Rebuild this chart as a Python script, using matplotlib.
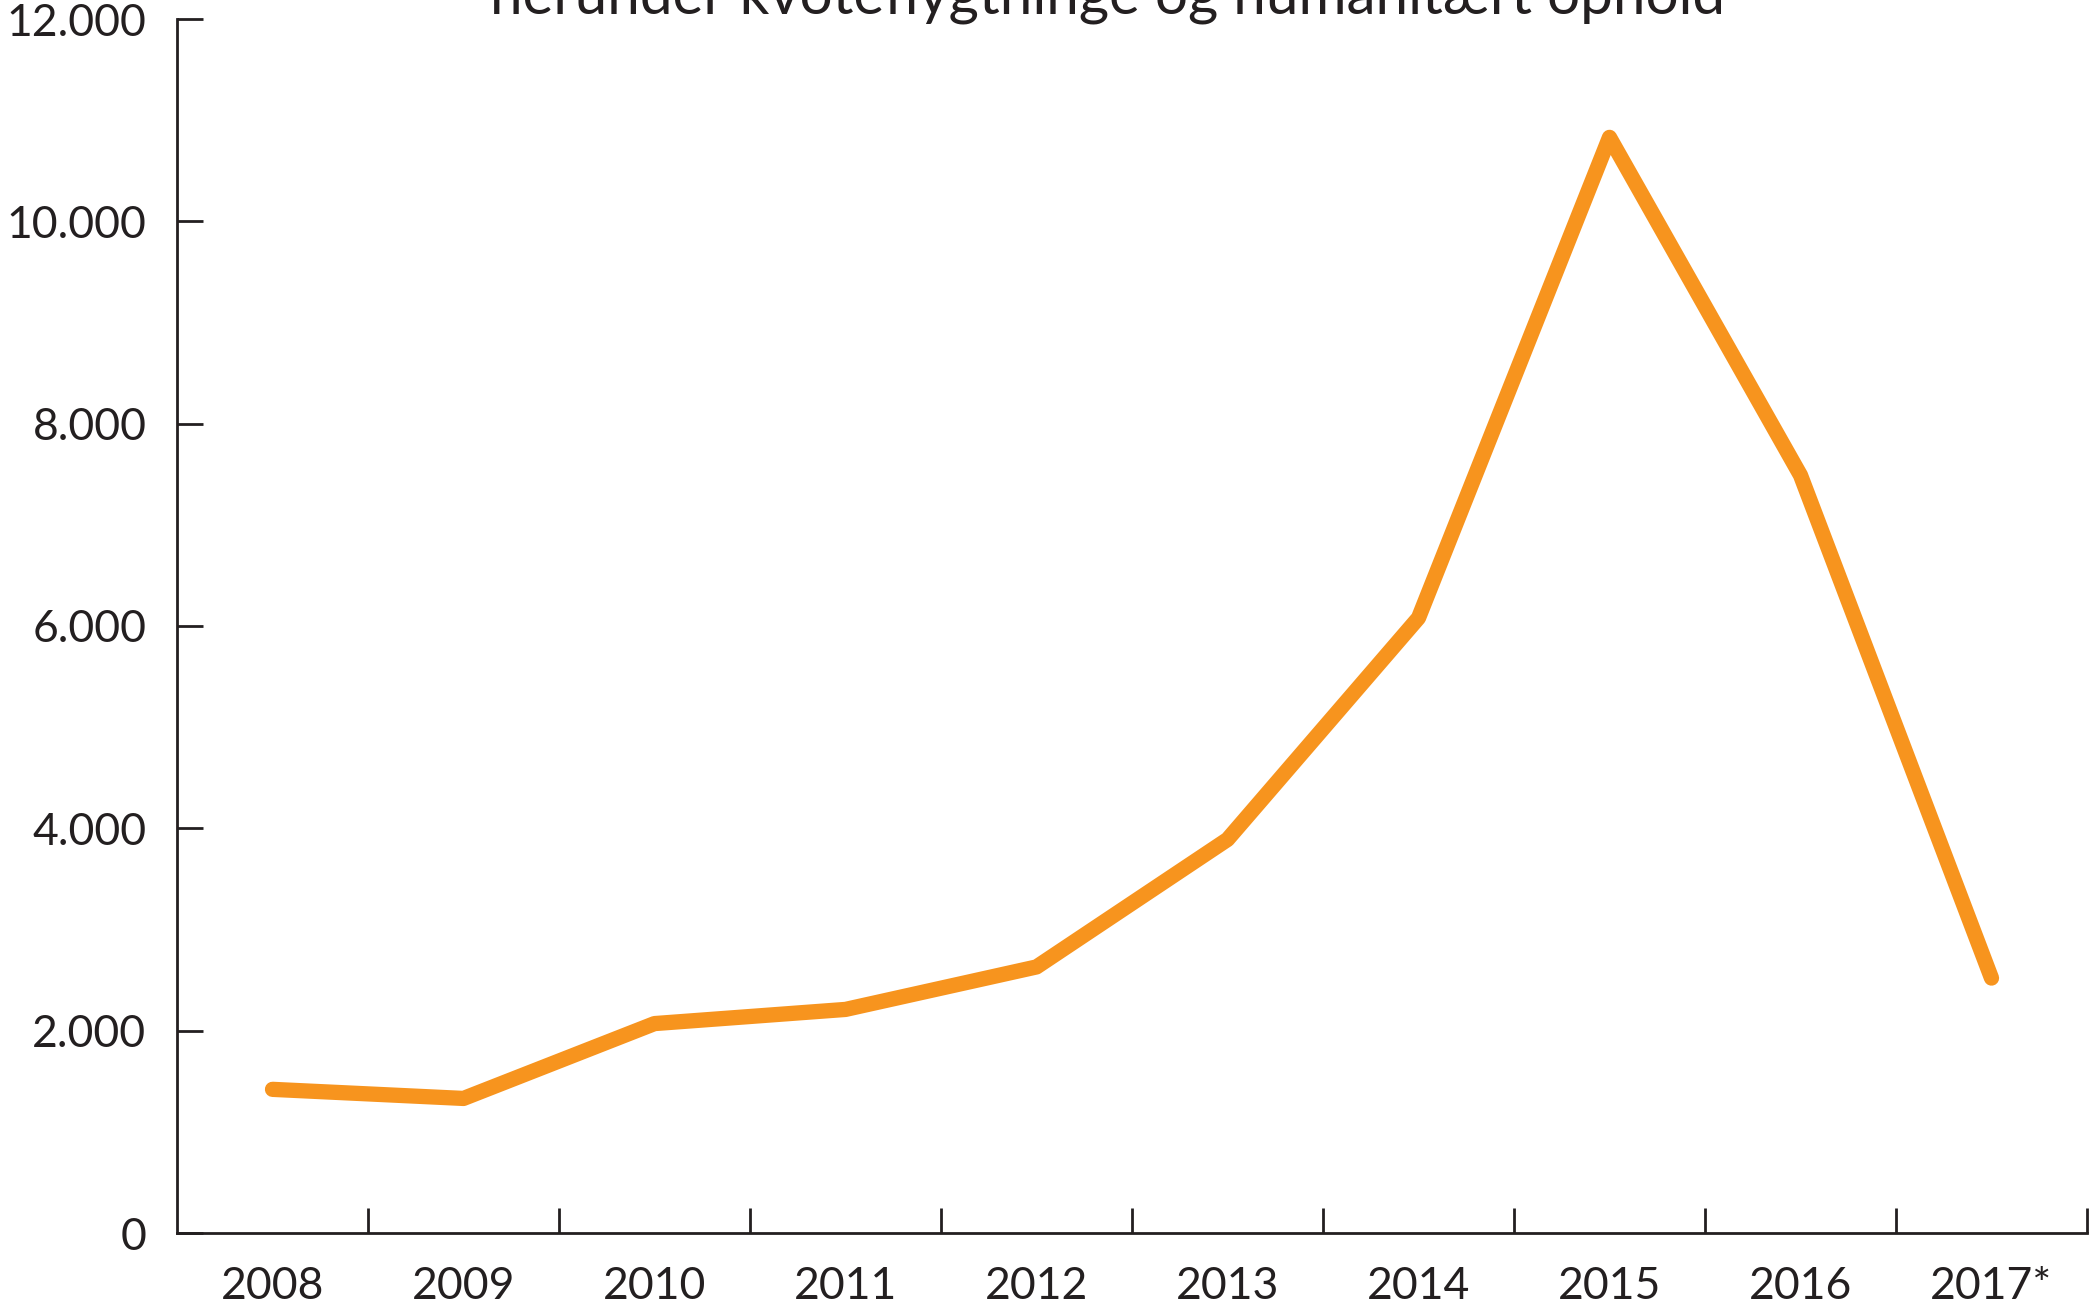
import matplotlib
matplotlib.use("Agg")
import matplotlib.pyplot as plt
from matplotlib.ticker import FixedLocator, FuncFormatter

years = ["2008", "2009", "2010", "2011", "2012", "2013", "2014", "2015", "2016", "2017*"]
values = [1420, 1330, 2070, 2210, 2630, 3890, 6080, 10830, 7490, 2520]
yticks = [0, 2000, 4000, 6000, 8000, 10000, 12000]
title = "herunder kvoteflygtninge og humanitært ophold"

plt.rcParams['font.family'] = ['Lato', 'DejaVu Sans']
ink = "#231f20"
orange = "#f7941e"

fig = plt.figure(figsize=(21, 13.11), dpi=100)
ax = fig.add_axes([177/2100, 1 - 1233/1311, (2087 - 177)/2100, (1233 - 19)/1311])

x = list(range(len(years)))
ax.plot(x, values, color=orange, lw=11, solid_capstyle="round", solid_joinstyle="round",
        clip_on=False, zorder=3)

ax.set_xlim(-0.5, len(years) - 0.5)
ax.set_ylim(0, 12000)

for s in ["top", "right"]:
    ax.spines[s].set_visible(False)
for s in ["left", "bottom"]:
    ax.spines[s].set_color(ink)
    ax.spines[s].set_linewidth(2)

ax.set_yticks(yticks)
ax.yaxis.set_major_formatter(FuncFormatter(lambda v, p: f"{int(v):,}".replace(",", ".")))
ax.tick_params(axis="y", direction="in", length=19, width=2, color=ink,
               labelsize=32, labelcolor=ink, pad=22)

ax.set_xticks(x)
ax.set_xticklabels(years)
ax.xaxis.set_minor_locator(FixedLocator([i + 0.5 for i in range(len(years))]))
ax.tick_params(axis="x", which="major", length=0, labelsize=32, labelcolor=ink, pad=24)
ax.tick_params(axis="x", which="minor", direction="in", length=18, width=2, color=ink)

fig.text(1108/2100, 1 - 13/1311, title, ha="center", va="baseline",
         fontsize=42, color=ink)

fig.savefig("out.png", dpi=100)
